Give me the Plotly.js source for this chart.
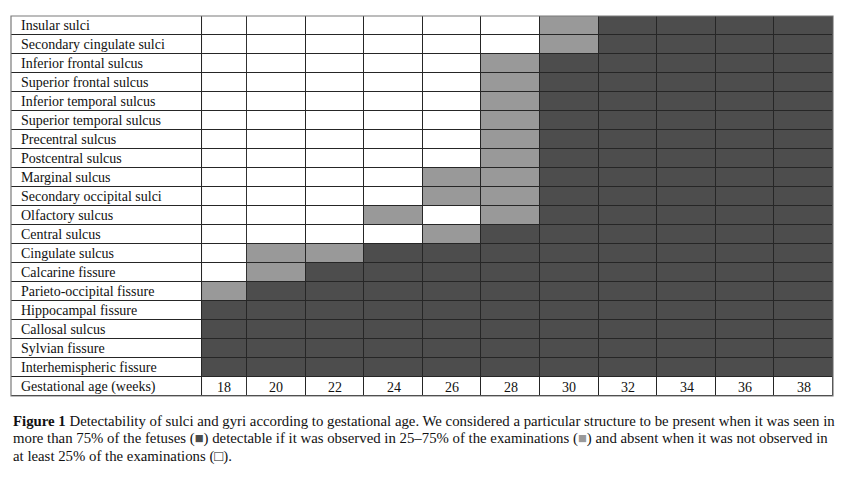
<!DOCTYPE html>
<html>
<head>
<meta charset="utf-8">
<script src="https://cdn.plot.ly/plotly-3.0.1.min.js"></script>
<style>html,body{margin:0;padding:0;background:#fff;}#chart{width:852px;height:477px;}</style>
</head>
<body>
<div id="chart"></div>
<script>
// Structures, top to bottom
var structures = [
  "Insular sulci",
  "Secondary cingulate sulci",
  "Inferior frontal sulcus",
  "Superior frontal sulcus",
  "Inferior temporal sulcus",
  "Superior temporal sulcus",
  "Precentral sulcus",
  "Postcentral sulcus",
  "Marginal sulcus",
  "Secondary occipital sulci",
  "Olfactory sulcus",
  "Central sulcus",
  "Cingulate sulcus",
  "Calcarine fissure",
  "Parieto-occipital fissure",
  "Hippocampal fissure",
  "Callosal sulcus",
  "Sylvian fissure",
  "Interhemispheric fissure"
];
var weeks = ["18", "20", "22", "24", "26", "28", "30", "32", "34", "36", "38"];
var axisLabel = "Gestational age (weeks)";
// 0 = absent, 1 = detectable (25-75%), 2 = present (>75%)
var detectability = [
  [0,0,0,0,0,0,1,2,2,2,2],
  [0,0,0,0,0,0,1,2,2,2,2],
  [0,0,0,0,0,1,2,2,2,2,2],
  [0,0,0,0,0,1,2,2,2,2,2],
  [0,0,0,0,0,1,2,2,2,2,2],
  [0,0,0,0,0,1,2,2,2,2,2],
  [0,0,0,0,0,1,2,2,2,2,2],
  [0,0,0,0,0,1,2,2,2,2,2],
  [0,0,0,0,1,1,2,2,2,2,2],
  [0,0,0,0,1,1,2,2,2,2,2],
  [0,0,0,1,0,1,2,2,2,2,2],
  [0,0,0,0,1,2,2,2,2,2,2],
  [0,1,1,2,2,2,2,2,2,2,2],
  [0,1,2,2,2,2,2,2,2,2,2],
  [1,2,2,2,2,2,2,2,2,2,2],
  [2,2,2,2,2,2,2,2,2,2,2],
  [2,2,2,2,2,2,2,2,2,2,2],
  [2,2,2,2,2,2,2,2,2,2,2],
  [2,2,2,2,2,2,2,2,2,2,2]
];

var rows = structures.concat([axisLabel]);
var colorscale = [[0, "#ffffff"], [0.5, "#999999"], [1, "#4d4d4d"]];
var serif = "Liberation Serif, Times New Roman, serif";

// label column: all white cells
var labelZ = rows.map(function(){ return [0]; });
// week grid: detectability rows + a white row holding the week numbers
var gridZ = detectability.concat([weeks.map(function(){ return 0; })]);
var gridText = detectability.map(function(r){ return r.map(function(){ return ""; }); })
  .concat([weeks.slice()]);

function sliceCols(m, a, b) { return m.map(function(r){ return r.slice(a, b); }); }

var labelTrace = {
  type: "heatmap", x: ["label"], y: rows, z: labelZ,
  xaxis: "x", yaxis: "y",
  colorscale: colorscale, zmin: 0, zmax: 2, showscale: false,
  xgap: 1, ygap: 1, hoverinfo: "skip"
};
function weekTrace(a, b, ax) {
  return {
    type: "heatmap", x: weeks.slice(a, b), y: rows,
    z: sliceCols(gridZ, a, b), text: sliceCols(gridText, a, b), texttemplate: "%{text}",
    textfont: {family: serif, size: 14, color: "#111"},
    xaxis: ax, yaxis: "y",
    colorscale: colorscale, zmin: 0, zmax: 2, showscale: false,
    xgap: 1, ygap: 1, hoverinfo: "skip"
  };
}
var firstWeekTrace = weekTrace(0, 1, "x2");
var otherWeeksTrace = weekTrace(1, weeks.length, "x3");

var capFont = {family: serif, size: 14.8, color: "#111"};
var capLines = [
  "<b>Figure 1</b> Detectability of sulci and gyri according to gestational age. We considered a particular structure to be present when it was seen in",
  "more than 75% of the fetuses (<span style='color:#4d4d4d'>■</span>) detectable if it was observed in 25–75% of the examinations (<span style='color:#999999'>■</span>) and absent when it was not observed in",
  "at least 25% of the examinations (□)."
];
var capY = [-0.066, -0.113, -0.158];
var annotations = capLines.map(function(t, i){
  return {xref: "paper", yref: "paper", x: 0, y: capY[i], xanchor: "left", yanchor: "middle",
          align: "left", showarrow: false, text: t, font: capFont};
});

var hiddenX = {type: "category", autorange: false, showticklabels: false, ticks: "",
               showgrid: false, zeroline: false, fixedrange: true, anchor: "y"};
function xax(domain, n) {
  return Object.assign({}, hiddenX, {domain: domain, range: [-0.5, n - 0.5]});
}

var layout = {
  width: 852, height: 477,
  margin: {l: 11, r: 19, t: 16, b: 81, pad: 0},
  paper_bgcolor: "#ffffff",
  plot_bgcolor: "#262626",
  showlegend: false,
  xaxis: xax([0, 0.2324], 1),
  xaxis2: xax([0.2324, 0.2871], 1),
  xaxis3: xax([0.2871, 1], weeks.length - 1),
  yaxis: {
    autorange: "reversed", type: "category", showgrid: false, zeroline: false, ticks: "",
    ticklabelposition: "inside", ticklabelstandoff: 7,
    tickfont: {family: serif, size: 14, color: "#111"}, fixedrange: true
  },
  shapes: [{type: "rect", xref: "paper", yref: "paper", x0: 0, x1: 1, y0: 0, y1: 1,
            line: {color: "#7a7a7a", width: 1.2}, fillcolor: "rgba(0,0,0,0)"}],
  annotations: annotations
};

Plotly.newPlot("chart", [labelTrace, firstWeekTrace, otherWeeksTrace], layout, {displayModeBar: false, staticPlot: true});
</script>
</body>
</html>
